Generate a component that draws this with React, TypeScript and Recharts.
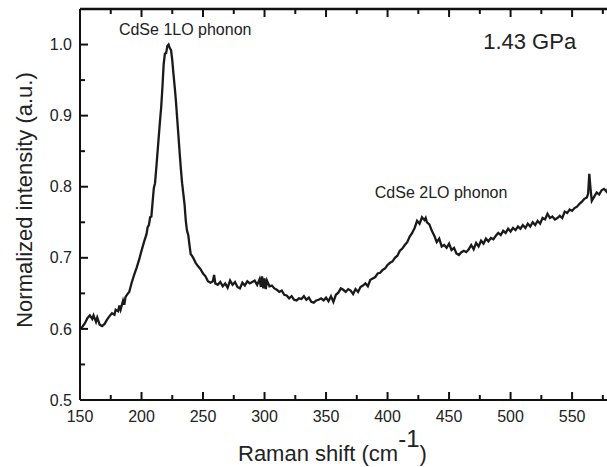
import React from 'react';
import { LineChart, Line, XAxis, YAxis, ReferenceDot, ReferenceLine, Label } from 'recharts';

const ramanShift = [
  150, 152, 154, 156, 158, 160, 161, 163, 164, 166, 168, 170, 172, 174, 176, 178, 179, 181, 182, 183,
  185, 186, 187, 189, 190, 192, 194, 196, 198, 200, 202, 204, 205, 206, 207, 208, 209, 210, 211, 212,
  213, 214, 215, 216, 217, 218, 219, 220, 221, 222, 223, 224, 225, 226, 227, 228, 229, 230, 231, 232,
  233, 234, 235, 236, 237, 238, 239, 240, 241, 242, 244, 246, 248, 250, 252, 254, 256, 258, 259, 260,
  262, 264, 266, 268, 270, 272, 274, 276, 278, 280, 282, 284, 286, 288, 290, 292, 294, 296, 297, 298,
  299, 300, 301, 302, 304, 306, 308, 310, 312, 314, 316, 318, 320, 322, 324, 326, 328, 330, 332, 334,
  336, 338, 340, 342, 344, 346, 348, 350, 352, 354, 356, 358, 360, 362, 364, 366, 368, 370, 372, 374,
  376, 378, 380, 382, 384, 386, 388, 390, 392, 394, 396, 398, 400, 402, 404, 406, 408, 410, 412, 414,
  416, 418, 420, 422, 424, 426, 428, 430, 431, 432, 434, 436, 438, 440, 442, 444, 446, 448, 450, 452,
  454, 456, 458, 460, 462, 464, 466, 468, 470, 472, 474, 476, 478, 480, 482, 484, 486, 488, 490, 492,
  494, 496, 498, 500, 502, 504, 506, 508, 510, 512, 514, 516, 518, 520, 522, 524, 526, 528, 530, 532,
  534, 536, 538, 540, 542, 544, 546, 548, 550, 552, 554, 556, 558, 560, 562, 563, 564, 565, 566, 568,
  570, 572, 574, 576, 578, 580,
];

const intensity = [
  0.600, 0.603, 0.608, 0.615, 0.619, 0.614, 0.619, 0.610, 0.616, 0.606, 0.604, 0.607, 0.613, 0.618, 0.622, 0.620, 0.627, 0.625, 0.633, 0.627,
  0.640, 0.634, 0.645, 0.650, 0.652, 0.665, 0.676, 0.686, 0.697, 0.710, 0.722, 0.733, 0.743, 0.746, 0.757, 0.758, 0.778, 0.798, 0.805, 0.826,
  0.848, 0.870, 0.892, 0.912, 0.940, 0.972, 0.987, 0.988, 0.998, 1.000, 0.995, 0.992, 0.978, 0.958, 0.940, 0.920, 0.896, 0.872, 0.848, 0.825,
  0.805, 0.790, 0.775, 0.752, 0.738, 0.732, 0.718, 0.705, 0.703, 0.700, 0.693, 0.688, 0.684, 0.678, 0.674, 0.667, 0.665, 0.667, 0.676, 0.664,
  0.662, 0.666, 0.660, 0.664, 0.658, 0.668, 0.662, 0.666, 0.659, 0.657, 0.665, 0.661, 0.667, 0.664, 0.666, 0.668, 0.662, 0.670, 0.659, 0.674,
  0.657, 0.671, 0.656, 0.668, 0.660, 0.661, 0.657, 0.655, 0.652, 0.654, 0.648, 0.647, 0.643, 0.646, 0.641, 0.640, 0.643, 0.642, 0.646, 0.641,
  0.644, 0.638, 0.637, 0.640, 0.641, 0.643, 0.640, 0.644, 0.639, 0.646, 0.638, 0.648, 0.651, 0.657, 0.655, 0.652, 0.656, 0.654, 0.649, 0.656,
  0.652, 0.659, 0.661, 0.664, 0.660, 0.669, 0.671, 0.673, 0.678, 0.679, 0.683, 0.685, 0.690, 0.693, 0.695, 0.700, 0.703, 0.710, 0.713, 0.718,
  0.722, 0.730, 0.735, 0.742, 0.752, 0.748, 0.757, 0.753, 0.756, 0.750, 0.747, 0.738, 0.731, 0.722, 0.727, 0.716, 0.718, 0.714, 0.720, 0.711,
  0.714, 0.706, 0.704, 0.708, 0.710, 0.708, 0.712, 0.718, 0.712, 0.721, 0.716, 0.724, 0.720, 0.727, 0.723, 0.728, 0.726, 0.731, 0.735, 0.732,
  0.738, 0.735, 0.741, 0.737, 0.742, 0.739, 0.744, 0.741, 0.746, 0.742, 0.748, 0.744, 0.750, 0.746, 0.752, 0.748, 0.756, 0.754, 0.762, 0.756,
  0.758, 0.754, 0.756, 0.759, 0.756, 0.765, 0.763, 0.768, 0.766, 0.770, 0.772, 0.776, 0.779, 0.783, 0.785, 0.790, 0.818, 0.797, 0.780, 0.786,
  0.792, 0.789, 0.795, 0.797, 0.793, 0.800,
];

const xMajorTicks = [150, 200, 250, 300, 350, 400, 450, 500, 550];
const xMinorTicks = [175, 225, 275, 325, 375, 425, 475, 525, 575];
const yMajorTicks = [0.5, 0.6, 0.7, 0.8, 0.9, 1.0];
const yMinorTicks = [0.55, 0.65, 0.75, 0.85, 0.95];

const annotations = [
  { text: 'CdSe 1LO phonon', x: 235.5, y: 1.021, size: 16 },
  { text: '1.43 GPa', x: 515.5, y: 1.005, size: 22 },
  { text: 'CdSe 2LO phonon', x: 443.5, y: 0.792, size: 16 },
];

const data = ramanShift.map((x, i) => ({ x, y: intensity[i] }));

const FONT = '"Liberation Sans", Arial, Helvetica, sans-serif';
const AXIS = '#111';
const tickLineStyle = { stroke: AXIS, strokeWidth: 2 };
const tickText = { fontSize: 16, fill: '#222', fontFamily: FONT };
const X_DOMAIN: [number, number] = [150, 580];
const Y_DOMAIN: [number, number] = [0.5, 1.05];
const Y_MAJOR_LEN = 0.0113;
const Y_MINOR_LEN = 0.007;
const X_MINOR_LEN = 4.1;

const XTitle = () => (
  <text x={238} y={461} fontSize={22} fontFamily={FONT} fill="#222">
    Raman shift (cm
    <tspan fontSize={24} dy={-14}>-1</tspan>
    <tspan fontSize={22} dy={14}>)</tspan>
  </text>
);

const YTitle = () => (
  <text x={32} y={200} transform="rotate(-90 32 200)" textAnchor="middle" fontSize={22} fontFamily={FONT} fill="#222">
    Normalized intensity (a.u.)
  </text>
);

export default function App() {
  const [y0, y1] = Y_DOMAIN;
  const x0 = X_DOMAIN[0];
  return (
    <div style={{ position: 'absolute', left: 0, top: 0, width: 607, height: 467, overflow: 'hidden', background: '#fff' }}>
      <LineChart width={612} height={467} data={data} margin={{ top: 9, right: 3, bottom: 0, left: 0 }}>
        <XAxis
          dataKey="x"
          type="number"
          domain={X_DOMAIN}
          ticks={xMajorTicks}
          interval={0}
          height={67}
          tickSize={-8}
          tickMargin={18.6}
          tickLine={tickLineStyle}
          tick={tickText}
          axisLine={{ stroke: AXIS, strokeWidth: 2 }}
        >
          <Label content={<XTitle />} />
        </XAxis>
        <YAxis
          type="number"
          domain={Y_DOMAIN}
          ticks={yMajorTicks}
          interval={0}
          width={80}
          tickSize={-8}
          tickMargin={16}
          tickLine={tickLineStyle}
          tick={tickText}
          tickFormatter={(v: number) => v.toFixed(1)}
          axisLine={{ stroke: AXIS, strokeWidth: 2 }}
        >
          <Label content={<YTitle />} />
        </YAxis>
        <ReferenceLine y={y1} stroke={AXIS} strokeWidth={2.5} />
        {xMinorTicks.map((t) => (
          <ReferenceLine key={'bm' + t} segment={[{ x: t, y: y0 }, { x: t, y: y0 + Y_MINOR_LEN }]} stroke={AXIS} strokeWidth={2} />
        ))}
        {xMinorTicks.map((t) => (
          <ReferenceLine key={'tm' + t} segment={[{ x: t, y: y1 }, { x: t, y: y1 - Y_MINOR_LEN }]} stroke={AXIS} strokeWidth={2} />
        ))}
        {xMajorTicks.map((t) => (
          <ReferenceLine key={'tM' + t} segment={[{ x: t, y: y1 }, { x: t, y: y1 - Y_MAJOR_LEN }]} stroke={AXIS} strokeWidth={2} />
        ))}
        {yMinorTicks.map((t) => (
          <ReferenceLine key={'lm' + t} segment={[{ x: x0, y: t }, { x: x0 + X_MINOR_LEN, y: t }]} stroke={AXIS} strokeWidth={2} />
        ))}
        <Line
          dataKey="y"
          type="linear"
          stroke="#1a1a1a"
          strokeWidth={2.3}
          dot={false}
          isAnimationActive={false}
        />
        {annotations.map((a) => (
          <ReferenceDot
            key={a.text}
            x={a.x}
            y={a.y}
            r={0}
            fill="none"
            stroke="none"
            label={{ value: a.text, position: 'center', fontSize: a.size, fontFamily: FONT, fill: '#222' }}
          />
        ))}
      </LineChart>
    </div>
  );
}
